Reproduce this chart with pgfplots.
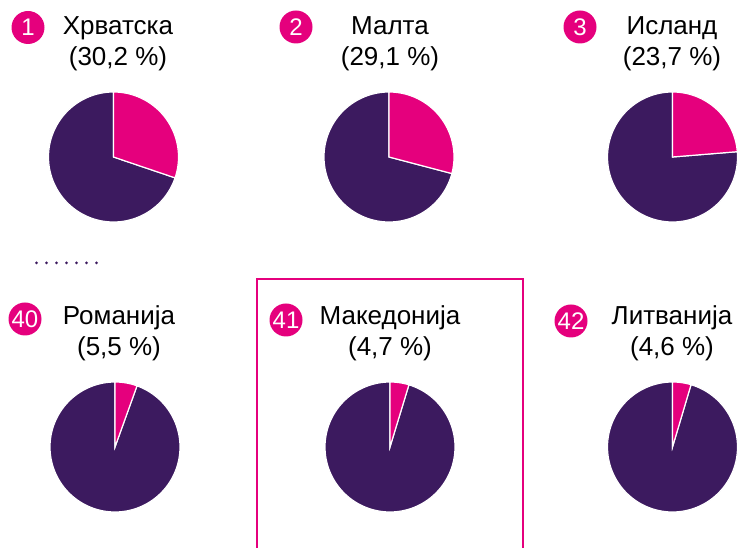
\documentclass[border=0pt]{standalone}
\usepackage{pgfplots}
\pgfplotsset{compat=1.18}
\usepackage{fontspec}
\setmainfont{Liberation Sans}
\definecolor{pk}{HTML}{E5007D}
\definecolor{pu}{HTML}{3C1A5F}
\newcommand{\pie}[3]{%
  \begin{axis}[at={(#1pt,#2pt)}, anchor=center, width=130pt, height=130pt,
    scale only axis, hide axis, xmin=-1, xmax=1, ymin=-1, ymax=1, clip=false]
    \addplot[fill=pu, draw=white, line width=1.2pt, domain={-270}:{90-3.6*#3}, samples=120]
      ({cos(x)},{sin(x)}) -- (axis cs:0,0) -- cycle;
    \addplot[fill=pk, draw=white, line width=1.2pt, domain={90-3.6*#3}:90, samples=60]
      ({cos(x)},{sin(x)}) -- (axis cs:0,0) -- cycle;
  \end{axis}}
\newcommand{\badge}[3]{%
  \fill[pk] (#1,#2) circle (16.5);
  \node[text=white, font=\fontsize{24}{28}\selectfont, inner sep=0pt] at (#1,#2) {#3};}
\newcommand{\ttl}[4]{%
  \node[anchor=base, inner sep=0pt] at (#1,#2) {#3};
  \node[anchor=base, inner sep=0pt] at (#1,#2-31) {#4};}
\begin{document}
\begin{tikzpicture}[x=1pt,y=1pt, font=\fontsize{26}{31}\selectfont]
\useasboundingbox (0,0) rectangle (738,548);
% rectangle around 41
\draw[pk, line width=2pt] (257,-5) -- (257,269) -- (523,269) -- (523,-5);
% pies
\pie{113.5}{391}{30.2}
\pie{389}{391}{29.1}
\pie{672.5}{391}{23.7}
\pie{115}{101}{5.5}
\pie{390}{101}{4.7}
\pie{672.5}{101}{4.6}
% titles
\ttl{118}{513}{Хрватска}{(30,2 \%)}
\ttl{390}{513}{Малта}{(29,1 \%)}
\ttl{672}{513}{Исланд}{(23,7 \%)}
\ttl{119}{223}{Романија}{(5,5 \%)}
\ttl{390}{223}{Македонија}{(4,7 \%)}
\ttl{672}{223}{Литванија}{(4,6 \%)}
% badges
\badge{28}{520.5}{1}
\badge{296}{521}{2}
\badge{580}{521}{3}
\badge{25}{229}{40}
\badge{286}{228}{41}
\badge{571}{227}{42}
% dots
\foreach \i in {0,...,6} \fill[pu] (36.5+10*\i,285) circle (1.5);
\end{tikzpicture}
\end{document}
